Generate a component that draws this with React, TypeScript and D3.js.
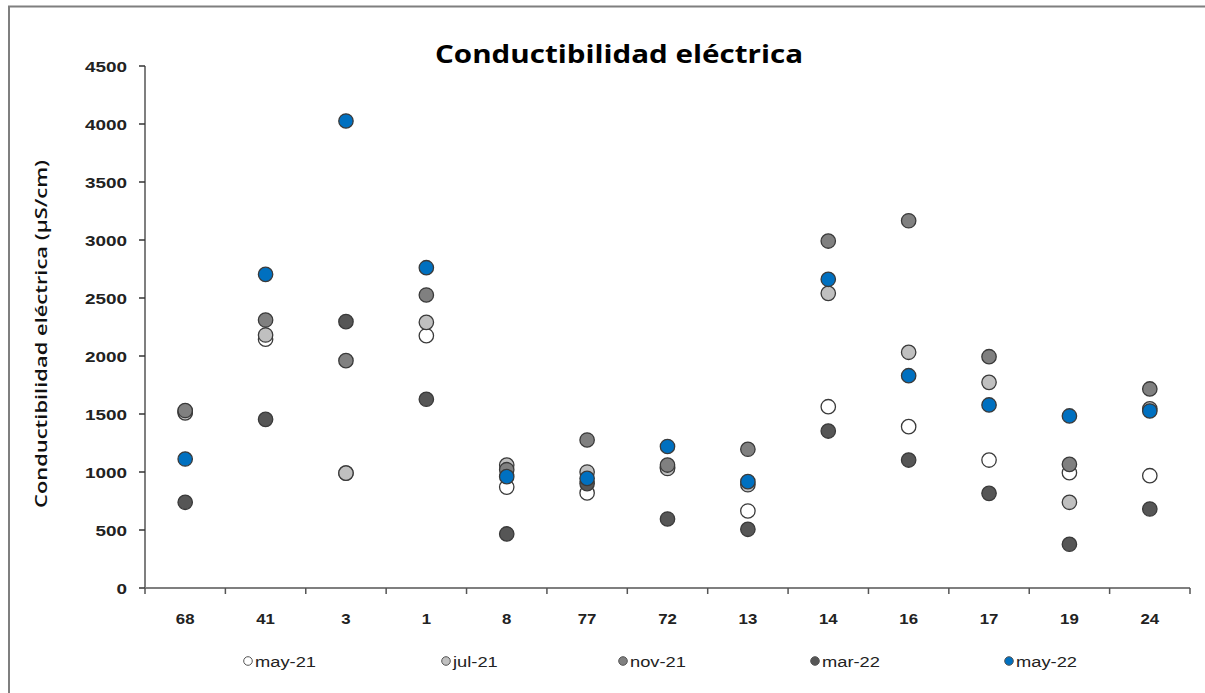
import React from "react";
import * as d3 from "d3";

const categories = ["68", "41", "3", "1", "8", "77", "72", "13", "14", "16", "17", "19", "24"];
const seriesNames = ["may-21", "jul-21", "nov-21", "mar-22", "may-22"];
const may21 = [1520, 2145, 990, 2175, 870, 820, 1040, 664, 1563, 1391, 1103, 994, 968];
const jul21 = [1510, 2181, 990, 2290, 1060, 1000, 1030, 890, 2540, 2032, 1773, 739, 1545];
const nov21 = [1530, 2310, 1960, 2526, 1020, 1276, 1060, 1196, 2991, 3166, 1994, 1066, 1716];
const mar22 = [739, 1454, 2296, 1627, 466, 900, 595, 506, 1353, 1103, 816, 377, 681];
const may22 = [1112, 2704, 4026, 2761, 960, 945, 1220, 917, 2661, 1830, 1578, 1483, 1526];
const yTicks = [0, 500, 1000, 1500, 2000, 2500, 3000, 3500, 4000, 4500];
const fills = ["#ffffff", "#c0c0c0", "#808080", "#565656", "#0070c0"];

const allSeries = [may21, jul21, nov21, mar22, may22];

function ST(props: { x: number; y: number; sx: number; anchor?: string; size: number; weight?: string; family: string; fill?: string; children: React.ReactNode }) {
  const { x, y, sx, anchor, size, weight, family, fill, children } = props;
  return (
    <text transform={`translate(${x},${y}) scale(${sx},1)`} textAnchor={anchor || "start"} fontFamily={family} fontWeight={weight || "normal"} fontSize={size} fill={fill || "#222"}>
      {children}
    </text>
  );
}

export default function App() {
  const W = 1205, H = 693;
  const left = 145, right = 1190, top = 66, bottom = 588;
  const x = d3.scaleBand<string>().domain(categories).range([left, right]);
  const y = d3.scaleLinear().domain([0, 4500]).range([bottom, top]);
  const legendX = [248, 446, 623, 815, 1009];
  const arial = "'Liberation Sans', Arial, sans-serif";
  const calibri = "'Open Sans', 'Noto Sans', sans-serif";
  return (
    <svg width={W} height={H} style={{ position: "absolute", left: 0, top: 0, background: "#fff" }}>
      <rect x={0} y={0} width={W} height={H} fill="#fff" />
      <path d={`M9,${H + 5} V6.5 H${W + 5}`} fill="none" stroke="#7f7f7f" strokeWidth={2} />
      <text x={619} y={63} textAnchor="middle" fontFamily={calibri} fontWeight="bold" fontSize={25} fill="#000" textLength={368} lengthAdjust="spacingAndGlyphs">
        Conductibilidad eléctrica
      </text>
      <text transform={`translate(47,334) rotate(-90)`} textAnchor="middle" fontFamily={calibri} fontWeight="600" fontSize={16} fill="#111" textLength={348} lengthAdjust="spacingAndGlyphs">
        Conductibilidad eléctrica  (µS/cm)
      </text>
      {/* y axis */}
      <line x1={left} x2={left} y1={top} y2={bottom} stroke="#7f7f7f" strokeWidth={2} />
      {yTicks.map((t) => (
        <g key={t}>
          <line x1={left - 6} x2={left} y1={y(t)} y2={y(t)} stroke="#333" strokeWidth={1.5} />
          <ST x={127} y={y(t) + 5.5} sx={1.22} anchor="end" size={15.5} weight="bold" family={arial}>
            {t}
          </ST>
        </g>
      ))}
      {/* x axis */}
      <line x1={left} x2={right} y1={bottom} y2={bottom} stroke="#7f7f7f" strokeWidth={2} />
      <line x1={left} x2={left} y1={bottom} y2={bottom + 6} stroke="#555" strokeWidth={1.5} />
      {categories.map((c) => (
        <g key={c}>
          <line x1={(x(c) as number) + x.bandwidth()} x2={(x(c) as number) + x.bandwidth()} y1={bottom} y2={bottom + 6} stroke="#555" strokeWidth={1.5} />
          <ST x={(x(c) as number) + x.bandwidth() / 2} y={624} sx={1.12} anchor="middle" size={15} weight="bold" family={arial}>
            {c}
          </ST>
        </g>
      ))}
      {/* points */}
      {allSeries.map((s, si) => (
        <g key={si}>
          {s.map((v, i) => (
            <circle key={i} cx={(x(categories[i]) as number) + x.bandwidth() / 2} cy={y(v)} r={7.2} fill={fills[si]} stroke="#3a3a3a" strokeWidth={1.3} />
          ))}
        </g>
      ))}
      {/* legend */}
      {seriesNames.map((n, i) => (
        <g key={n}>
          <circle cx={legendX[i]} cy={661} r={4.3} fill={fills[i]} stroke="#555" strokeWidth={1} />
          <ST x={legendX[i] + 7} y={666.5} sx={1.22} size={15} family={arial}>
            {n}
          </ST>
        </g>
      ))}
    </svg>
  );
}
